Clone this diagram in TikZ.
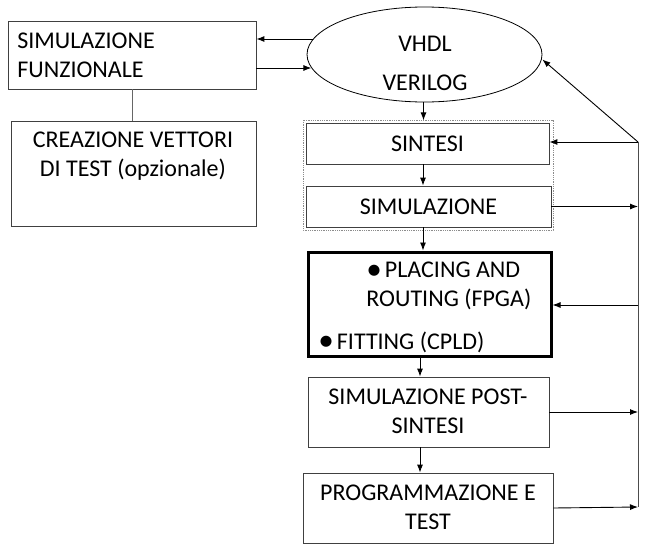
\documentclass[tikz,border=0pt]{standalone}
\usepackage{fontspec}
\setmainfont{Carlito}
\usetikzlibrary{arrows.meta,shapes}

\newcommand{\pallino}{\raisebox{-1.5pt}{\scalebox{1.3}{\textbullet}}\kern3pt}

\tikzset{
  box/.style={draw=black!75,rectangle,inner sep=0pt},
  txt/.style={inner sep=0pt,align=center,font=\fontsize{24}{29}\selectfont},
  link/.style={->,>={Latex[length=8pt,width=6pt]},line width=0.9pt},
}

\begin{document}
\begin{tikzpicture}[x=1pt,y=-1pt,line width=0.8pt]
\useasboundingbox (0,0) rectangle (653,552);

% left side
\node[box,minimum width=248,minimum height=68] (simfun) at (132,55) {};
\node[txt,anchor=west,align=left] (simfuntxt) at (17,55) {SIMULAZIONE\\FUNZIONALE};
\node[box,minimum width=245,minimum height=105] (creaz) at (133.5,173.5) {};
\node[txt] (creaztxt) at (133,156) {CREAZIONE VETTORI\\DI TEST (opzionale)};
\draw[black!60] (simfun.south) -- (simfun.south |- creaz.north);

% sorgente
\node[draw,ellipse,minimum width=235,minimum height=95,inner sep=0pt] (hdl) at (424.5,54.5) {};
\node[txt] (vhdl) at (425,44) {VHDL};
\node[txt] (verilog) at (425,83) {VERILOG};
\draw[link] ([yshift=16pt]simfun.east) ++(57,0) -- ([yshift=16pt]simfun.east);
\draw[link] ([yshift=-13pt]simfun.east) -- ++(55,0);

% flusso principale
\draw[black!45,densely dotted] (303,120) rectangle (553,230);
\node[box,minimum width=243,minimum height=41] (sintesi) at (427.5,143.5) {};
\node[txt] (sintesitxt) at (sintesi) {SINTESI};
\node[box,minimum width=245,minimum height=41] (simul) at (428.5,206.5) {};
\node[txt] (simultxt) at (simul) {SIMULAZIONE};
\node[draw,rectangle,line width=3pt,minimum width=243,minimum height=104,inner sep=0pt] (pr) at (429.5,304) {};
\node[txt,anchor=west,align=left] (placing) at (366,286) {\pallino PLACING AND\\ROUTING (FPGA)};
\node[txt,anchor=west] (fitting) at (318,342) {\pallino FITTING (CPLD)};
\node[box,minimum width=241,minimum height=70] (post) at (428.5,412) {};
\node[txt] (posttxt) at (428,411) {SIMULAZIONE POST-\\SINTESI};
\node[box,minimum width=250,minimum height=70] (prog) at (428,508) {};
\node[txt] (progtxt) at (428,507) {PROGRAMMAZIONE E\\TEST};

\draw[link] (hdl.south) ++(-1,0) -- ++(0,18);
\draw[link] (sintesi.south -| 423,0) -- (simul.north -| 423,0);
\draw[link] (simul.south -| 423,0) -- (pr.north -| 423,0);
\draw[link] (pr.south -| 420,0) -- (post.north -| 420,0);
\draw[link] (post.south -| 420,0) -- (prog.north -| 420,0);

% ritorno
\coordinate (bustop) at (638,142);
\coordinate (busbot) at (638,507);
\draw[black!70] (bustop) -- (busbot);
\draw[link] (bustop) -- ([yshift=-5pt]hdl.east);
\draw[link] (bustop) -- (sintesi.east |- bustop);
\draw[link] (simul.east) -- (simul.east -| bustop);
\draw[link] (bustop |- 0,305) -- (pr.east |- 0,305);
\draw[link] (post.east) -- (post.east -| bustop);
\draw[link] (prog.east) -- (busbot);
\end{tikzpicture}
\end{document}
